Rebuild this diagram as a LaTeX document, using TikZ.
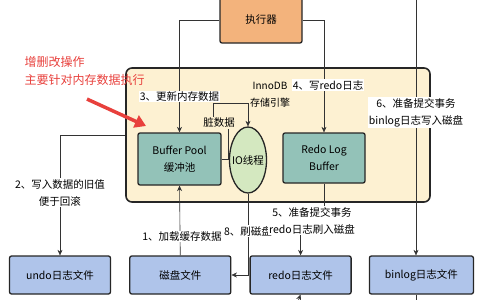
\documentclass[tikz,border=0pt]{standalone}
\usepackage{fontspec}
\setmainfont{Noto Sans CJK SC}
\usetikzlibrary{arrows.meta,positioning,shapes.geometric}
\definecolor{execorange}{HTML}{F3B37C}
\definecolor{poolteal}{HTML}{93C2B8}
\definecolor{iogreen}{HTML}{D4E8C0}
\definecolor{fileblue}{HTML}{AFC4EA}
\definecolor{enginecream}{HTML}{FDF1D2}
\definecolor{notered}{HTML}{E8403C}
\begin{document}
\begin{tikzpicture}[x=1pt,y=-1pt,node distance=18pt,
 box/.style={draw=black!85,line width=1.3pt,rounded corners=2pt,align=center,font=\fontsize{10.5}{17}\selectfont},
 file/.style={box,fill=fileblue,minimum width=101pt,minimum height=38pt},
 lbl/.style={fill=white,inner sep=1pt,align=center,font=\fontsize{10.5}{17}\selectfont},
 link/.style={draw=black!80,line width=0.6pt},
 >={Stealth[length=5.5pt,width=5pt]}]
\useasboundingbox (0,0) rectangle (480,300);
\node[box,fill=enginecream,line width=1.6pt,rounded corners=6pt,minimum width=304pt,minimum height=134pt] (innodb) at (278,135) {};
\node[box,fill=execorange,minimum width=82pt,minimum height=46pt] (exec) at (261,20) {执行器};
\node[box,fill=poolteal,minimum width=83pt,minimum height=52pt] (pool) at (179.5,159) {Buffer Pool\\缓冲池};
\node[box,fill=poolteal,minimum width=82pt,minimum height=50pt] (logbuf) at (324,158) {Redo Log\\Buffer};
\node[ellipse,draw=black!85,line width=1.3pt,fill=iogreen,minimum width=37pt,minimum height=66pt,inner sep=0pt] (io) at (248,160) {};
\node[font=\fontsize{10.5}{12}\selectfont] (iotext) at (io) {IO线程};
\node[align=center,font=\fontsize{10}{17}\selectfont] (enginelbl) at (270,95) {InnoDB\\存储引擎};
% bottom row of files
\node[file] (undo) at (60,275) {undo日志文件};
\node[file,right=of undo] (disk) {磁盘文件};
\node[file,right=of disk] (redo) {redo日志文件};
\node[file,right=17pt of redo,minimum width=104pt] (binlog) {binlog日志文件};
\coordinate (bintop) at (416,0);
\coordinate (redobot) at (298.5,300);
\coordinate (binbot) at (416,300);
% connectors
\draw[link,->] (pool.east) -- (228,159) -- (228,123) -- (213,123) -- (213,103) -| (io.north);
\node[lbl,fill=enginecream] (dirty) at (219,123) {脏数据};
\draw[link,->] (exec.west) -| node[lbl,pos=0.84]{3、更新内存数据} (pool.north);
\draw[link,->] (exec.east) -| node[lbl,pos=0.79,xshift=4pt]{4、写redo日志} (logbuf.north);
\draw[link,->] (innodb.west) -| node[lbl,pos=0.74]{2、写入数据的旧值\\便于回滚} (undo.north);
\draw[link,->] (disk.north) -- node[lbl,pos=0.27,xshift=2pt]{1、加载缓存数据} (pool.south);
\draw[link,->] (io.south) |- node[lbl,pos=0.23]{8、刷磁盘} (disk.east);
\draw[link,->] (logbuf.south) -- ++(0,37) coordinate (jog) -| (redo.north);
\node[lbl] (flushlbl) at ([xshift=-12pt]jog) {5、准备提交事务\\redo日志刷入磁盘};
\draw[link,->] (bintop) -- node[lbl,pos=0.44]{6、准备提交事务\\binlog日志写入磁盘} (bintop |- binlog.north);
\draw[link,->] (redobot) -- (redo.south);
\draw[link] (binlog.south -| bintop) -- (binbot);
% red note
\node[anchor=west,text=notered,align=left,font=\fontsize{12}{18}\selectfont] (note) at (21,71) {增删改操作\\主要针对内存数据执行};
\coordinate (notetip) at (146,126);
\draw[notered,line width=3.5pt,-{Triangle[length=11pt,width=13pt]}] ([xshift=66pt,yshift=-10pt]note.south west) -- (notetip);
\end{tikzpicture}
\end{document}
